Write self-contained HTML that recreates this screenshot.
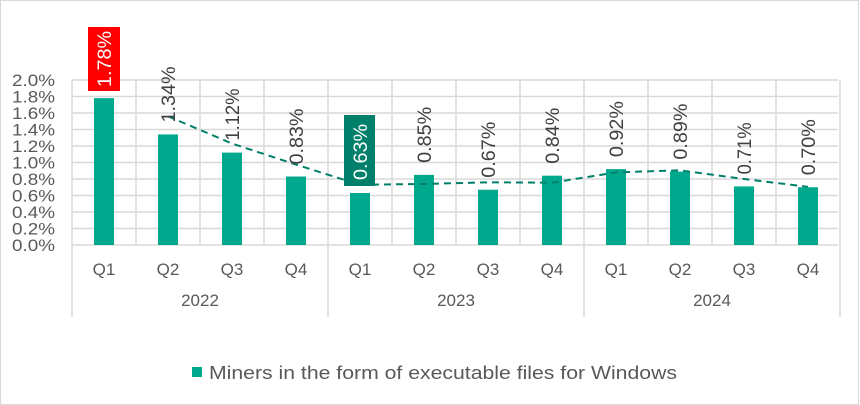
<!DOCTYPE html>
<html><head><meta charset="utf-8"><style>
html,body{margin:0;padding:0;background:#fff}
svg{display:block;font-family:"Liberation Sans",sans-serif}
</style></head><body>
<svg width="860" height="405" viewBox="0 0 860 405" xmlns="http://www.w3.org/2000/svg">
<rect x="0.5" y="0.5" width="858" height="404" fill="#fff" stroke="#d9d9d9"/>
<script>
const ns="http://www.w3.org/2000/svg";
const svg=document.querySelector('svg');
function el(t,a,txt){const e=document.createElementNS(ns,t);for(const k in a)e.setAttribute(k,a[k]);if(txt!=null)e.textContent=txt;svg.appendChild(e);return e;}
const y0=245,sc=82.5,L=72,W=64;
for(let i=0;i<=10;i++){const y=y0-i*0.2*sc;el('line',{x1:L,x2:838,y1:y,y2:y,stroke:'#d9d9d9','stroke-width':1.5});
el('text',{x:12,y:y+6,'font-size':'17',fill:'#595959',textLength:43,lengthAdjust:'spacingAndGlyphs'},(i*0.2).toFixed(1)+'%');}
for(let i=0;i<=12;i++){const x=L+i*W;const yr=(i%4==0);el('line',{x1:x,x2:x,y1:80,y2:yr?317:245,stroke:'#d9d9d9','stroke-width':1.5});}
const v=[1.78,1.34,1.12,0.83,0.63,0.85,0.67,0.84,0.92,0.89,0.71,0.70];
v.forEach((d,i)=>{const cx=L+W*i+32;const top=y0-d*sc;
el('rect',{x:cx-10,y:top,width:20,height:y0-top,fill:'#00a88e'});
el('text',{x:cx,y:275,'text-anchor':'middle','font-size':'17',fill:'#595959'},'Q'+(i%4+1));});
let pts=[];for(let i=1;i<12;i++){pts.push((L+W*i+32)+','+(y0-(v[i]+v[i-1])/2*sc));}
el('polyline',{points:pts.join(' '),fill:'none',stroke:'#00806a','stroke-width':2,'stroke-dasharray':'7,5'});
el('rect',{x:88,y:27,width:32,height:64,fill:'#ff0000'});
el('rect',{x:344,y:115,width:31,height:71,fill:'#00806a'});
v.forEach((d,i)=>{const cx=L+W*i+32;let by=y0-d*sc-12;let col='#404040';
if(i==0){by=87;col='#fff';} if(i==4){by=180;col='#fff';}
el('text',{x:0,y:0,transform:`translate(${cx+7},${by}) rotate(-90)`,'font-size':'19',fill:col,textLength:(d==1.12||d==0.71)?52:56,lengthAdjust:'spacingAndGlyphs'},d.toFixed(2)+'%');});
['2022','2023','2024'].forEach((t,k)=>el('text',{x:L+W*(4*k+2),y:306,'text-anchor':'middle','font-size':'17',fill:'#595959'},t));
el('rect',{x:192,y:367,width:10,height:10,fill:'#00a88e'});
el('text',{x:209,y:379,'font-size':'18.5',fill:'#595959',textLength:468,lengthAdjust:'spacingAndGlyphs'},'Miners in the form of executable files for Windows');
</script>
</svg>
</body></html>
